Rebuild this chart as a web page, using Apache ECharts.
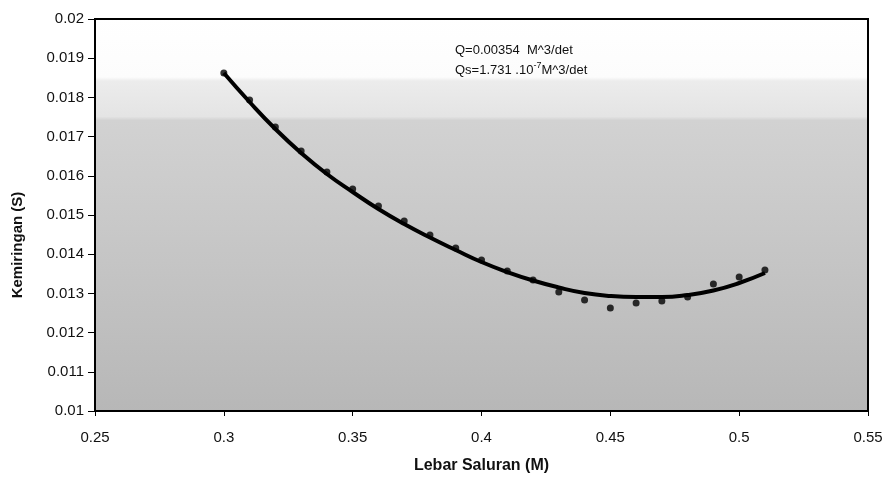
<!DOCTYPE html>
<html>
<head>
<meta charset="utf-8">
<script src="https://cdn.jsdelivr.net/npm/echarts@6/dist/echarts.min.js"></script>
<style>
  html, body { margin: 0; padding: 0; background: #fff; }
  #chart { width: 890px; height: 482px; }
</style>
</head>
<body>
<div id="chart"></div>
<script>
// lebar saluran (M)
const lebar = [0.30, 0.31, 0.32, 0.33, 0.34, 0.35, 0.36, 0.37, 0.38, 0.39, 0.40,
               0.41, 0.42, 0.43, 0.44, 0.45, 0.46, 0.47, 0.48, 0.49, 0.50, 0.51];
// kemiringan hasil pengamatan (titik)
const kemiringan = [0.018622, 0.017934, 0.017245, 0.016633, 0.016097, 0.015663, 0.015230,
                    0.014847, 0.014490, 0.014158, 0.013852, 0.013571, 0.013342, 0.013036,
                    0.012832, 0.012628, 0.012755, 0.012806, 0.012908, 0.013240, 0.013418,
                    0.013597];
// garis trend
const trend = [0.018622, 0.017883, 0.017194, 0.016582, 0.016046, 0.015587, 0.015153,
               0.014770, 0.014426, 0.014107, 0.013801, 0.013546, 0.013329, 0.013151,
               0.013010, 0.012934, 0.012908, 0.012908, 0.012959, 0.013074, 0.013265,
               0.013520];
const noteQ = 'Q=0.00354  M^3/det';
const noteQs = ['Qs=1.731 .10', '-7', 'M^3/det'];
const judulY = 'Kemiringan (S)';

const chart = echarts.init(document.getElementById('chart'));

const font = 'Liberation Sans, Arial, sans-serif';
const labelStyle = { color: '#111', fontFamily: font, fontSize: 15 };

chart.setOption({
  animation: false,
  grid: {
    left: 95, right: 22, top: 19, bottom: 71,
    show: true,
    borderColor: '#000',
    borderWidth: 2,
    backgroundColor: new echarts.graphic.LinearGradient(0, 0, 0, 1, [
      { offset: 0, color: '#ffffff' },
      { offset: 0.15, color: '#fcfcfc' },
      { offset: 0.16, color: '#ececec' },
      { offset: 0.25, color: '#e4e4e4' },
      { offset: 0.26, color: '#d2d2d2' },
      { offset: 1, color: '#b7b7b7' }
    ])
  },
  xAxis: {
    type: 'value',
    min: 0.25, max: 0.55, interval: 0.05,
    name: 'Lebar Saluran (M)',
    nameLocation: 'middle',
    nameGap: 47,
    nameTextStyle: { color: '#111', fontFamily: font, fontSize: 16, fontWeight: 'bold' },
    axisLine: { show: true, onZero: false, lineStyle: { color: '#000', width: 2 } },
    axisTick: { show: true, inside: false, length: 5, lineStyle: { color: '#000' } },
    axisLabel: Object.assign({ margin: 19 }, labelStyle),
    splitLine: { show: false }
  },
  yAxis: {
    type: 'value',
    min: 0.01, max: 0.02, interval: 0.001,
    axisLine: { show: true, onZero: false, lineStyle: { color: '#000', width: 2 } },
    axisTick: { show: true, inside: false, length: 7, lineStyle: { color: '#000' } },
    axisLabel: Object.assign({ margin: 11 }, labelStyle),
    splitLine: { show: false }
  },
  graphic: [
    {
      type: 'text', x: 18, y: 245, rotation: Math.PI / 2,
      style: {
        text: judulY, fill: '#111', font: 'bold 15px ' + font,
        align: 'center', verticalAlign: 'middle'
      }
    },
    {
      type: 'text', left: 455, top: 44,
      style: { text: noteQ, fill: '#111', font: '13px ' + font }
    },
    {
      type: 'text', left: 455, top: 61,
      style: {
        text: '{a|' + noteQs[0] + '}{s|' + noteQs[1] + '}{a|' + noteQs[2] + '}',
        rich: {
          a: { fontSize: 13, fontFamily: font, fill: '#111', verticalAlign: 'bottom' },
          s: { fontSize: 9, fontFamily: font, fill: '#111', verticalAlign: 'top', padding: [0, 0, 7, 0] }
        }
      }
    }
  ],
  series: [
    {
      name: 'trend',
      type: 'line',
      smooth: true,
      showSymbol: false,
      data: lebar.map((x, i) => [x, trend[i]]),
      lineStyle: { color: '#000', width: 4 },
      z: 2
    },
    {
      name: 'kemiringan',
      type: 'scatter',
      symbol: 'circle',
      symbolSize: 7,
      data: lebar.map((x, i) => [x, kemiringan[i]]),
      itemStyle: { color: '#000' },
      z: 3
    }
  ]
});
</script>
</body>
</html>
